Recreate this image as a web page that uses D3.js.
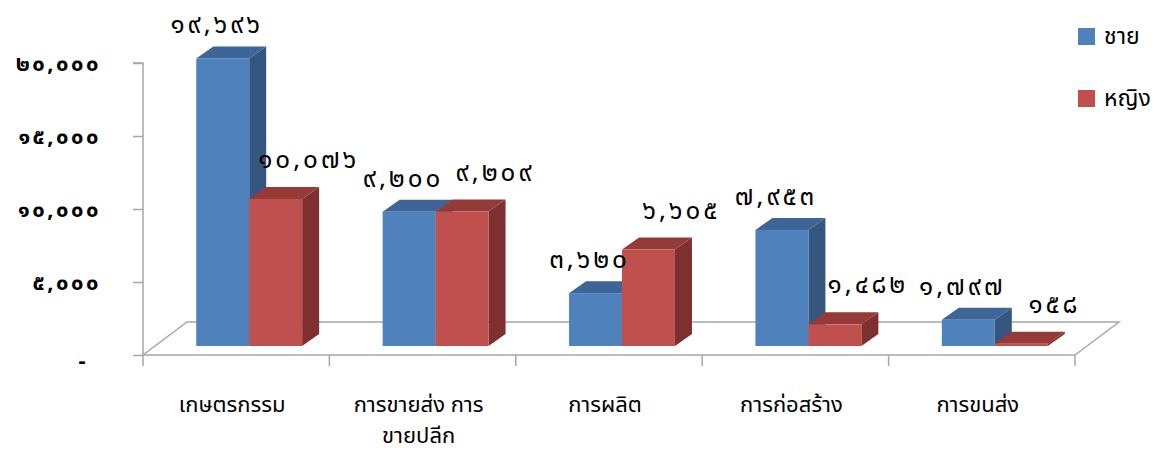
<!DOCTYPE html>
<html>
<head>
<meta charset="utf-8">
<script src="https://cdn.jsdelivr.net/npm/d3@7"></script>
<style>
  body { margin: 0; background: #fff; }
  text { font-family: "Noto Sans Thai", "Noto Sans", "DejaVu Sans", sans-serif; }
</style>
</head>
<body>
<div id="chart"></div>
<script>
// data
const categories = ["เกษตรกรรม", "การขายส่ง การ|ขายปลีก", "การผลิต", "การก่อสร้าง", "การขนส่ง"];
const seriesNames = ["ชาย", "หญิง"];
const male = [19696, 9200, 3620, 7953, 1797];
const female = [10076, 9209, 6605, 1482, 158];
const yTicks = [0, 5000, 10000, 15000, 20000];

const width = 1162, height = 454;
const svg = d3.select('#chart').append('svg')
    .attr('width', width)
    .attr('height', height);

// Thai numerals
const thai = d3.formatLocale({
    decimal: ".", thousands: ",", grouping: [3], currency: ["", ""],
    numerals: ["๐", "๑", "๒", "๓", "๔", "๕", "๖", "๗", "๘", "๙"]
});
const fmt = thai.format(",d");

const x0 = 143, x1 = 1075, yBase = 355;
const floorDx = 44, floorDy = -33;   // floor depth
const barShiftX = 13, barShiftY = -9; // bars sit a bit into the floor
const depthX = 17, depthY = -12;      // bar thickness

const x = d3.scaleBand().domain(categories).range([x0, x1]);
const xs = d3.scaleBand().domain(seriesNames).range([0, x.bandwidth()]).paddingOuter(0.76);
const y = d3.scaleLinear().domain([0, 20000]).range([yBase, 63]);

const colors = {
    "ชาย": { front: "#4f81bd", side: "#34567f", top: "#3d6597" },
    "หญิง": { front: "#c0504d", side: "#7e302e", top: "#953a37" }
};

// floor
const grey = "#a6a6a6";
svg.append('path')
    .attr('d', `M${x0},${yBase} L${x0 + floorDx},${yBase + floorDy} L${x1 + floorDx},${yBase + floorDy} L${x1},${yBase}`)
    .attr('fill', 'none').attr('stroke', grey).attr('stroke-width', 1.5);

// y axis
const yAxis = d3.axisLeft(y).tickValues(yTicks).tickSize(10)
    .tickFormat(d => d === 0 ? "-" : fmt(d));
const gy = svg.append('g').attr('transform', `translate(${x0},0)`).call(yAxis);
gy.select('.domain').attr('stroke', grey).attr('stroke-width', 1.5).attr('d', `M-10,${y(20000)}H0V${yBase}`);
gy.selectAll('.tick line').attr('stroke', grey).attr('stroke-width', 1.5);
gy.selectAll('.tick text')
    .attr('x', -42)
    .attr('fill', '#000')
    .style('font-size', '22px')
    .style('font-weight', 'bold')
    .style('letter-spacing', '2.5px')
    .attr('dy', d => d === 0 ? '0.55em' : '0.32em')
    .filter(d => d === 0).attr('x', -55);

// x axis
svg.append('line').attr('x1', x0).attr('x2', x1).attr('y1', yBase).attr('y2', yBase)
    .attr('stroke', grey).attr('stroke-width', 1.5);
const bounds = categories.map(c => x(c)).concat([x1]);
svg.selectAll('.xtick').data(bounds).enter().append('line')
    .attr('x1', d => d).attr('x2', d => d).attr('y1', yBase).attr('y2', yBase + 11)
    .attr('stroke', grey).attr('stroke-width', 1.5);

const xl = svg.selectAll('.xlabel').data(categories).enter().append('text')
    .attr('text-anchor', 'middle')
    .attr('x', d => x(d) + x.bandwidth() / 2)
    .attr('y', 412)
    .style('font-size', '22px')
    .attr('fill', '#000');
xl.each(function (d) {
    const parts = d.split('|');
    parts.forEach((p, i) => {
        d3.select(this).append('tspan')
            .attr('x', x(d) + x.bandwidth() / 2 - 4)
            .attr('dy', i === 0 ? 0 : 31)
            .text(p);
    });
});

// bars
const bars = [];
categories.forEach((c, i) => {
    [male[i], female[i]].forEach((v, j) => bars.push({ cat: c, s: seriesNames[j], v }));
});

const g = svg.append('g');
bars.forEach(b => {
    const left = x(b.cat) + xs(b.s) + barShiftX;
    const right = left + xs.bandwidth();
    const bottom = yBase + barShiftY;
    const top = y(b.v) + barShiftY;
    const col = colors[b.s];
    // side
    g.append('path')
        .attr('d', `M${right},${bottom} L${right + depthX},${bottom + depthY} L${right + depthX},${top + depthY} L${right},${top}Z`)
        .attr('fill', col.side);
    // top
    g.append('path')
        .attr('d', `M${left},${top} L${left + depthX},${top + depthY} L${right + depthX},${top + depthY} L${right},${top}Z`)
        .attr('fill', col.top);
    // front
    g.append('rect')
        .attr('x', left).attr('y', top)
        .attr('width', xs.bandwidth()).attr('height', bottom - top)
        .attr('fill', col.front);
});

// data labels
svg.selectAll('.dlabel').data(bars).enter().append('text')
    .attr('text-anchor', 'middle')
    .attr('x', d => x(d.cat) + xs(d.s) + barShiftX + xs.bandwidth() / 2 + (d.s === "ชาย" ? -6 : 33))
    .attr('y', d => y(d.v) + barShiftY + (d.s === "ชาย" ? -25 : -31))
    .style('font-size', '26px')
    .style('letter-spacing', '3px')
    .attr('fill', '#000')
    .text(d => fmt(d.v));

// legend
const legend = svg.selectAll('.legend').data(seriesNames).enter().append('g')
    .attr('transform', (d, i) => `translate(1078,${28 + i * 62})`);
legend.append('rect').attr('width', 17).attr('height', 17).attr('fill', d => colors[d].front);
legend.append('text').attr('x', 26).attr('y', 16).style('font-size', '23px').attr('fill', '#000').text(d => d);
</script>
</body>
</html>
